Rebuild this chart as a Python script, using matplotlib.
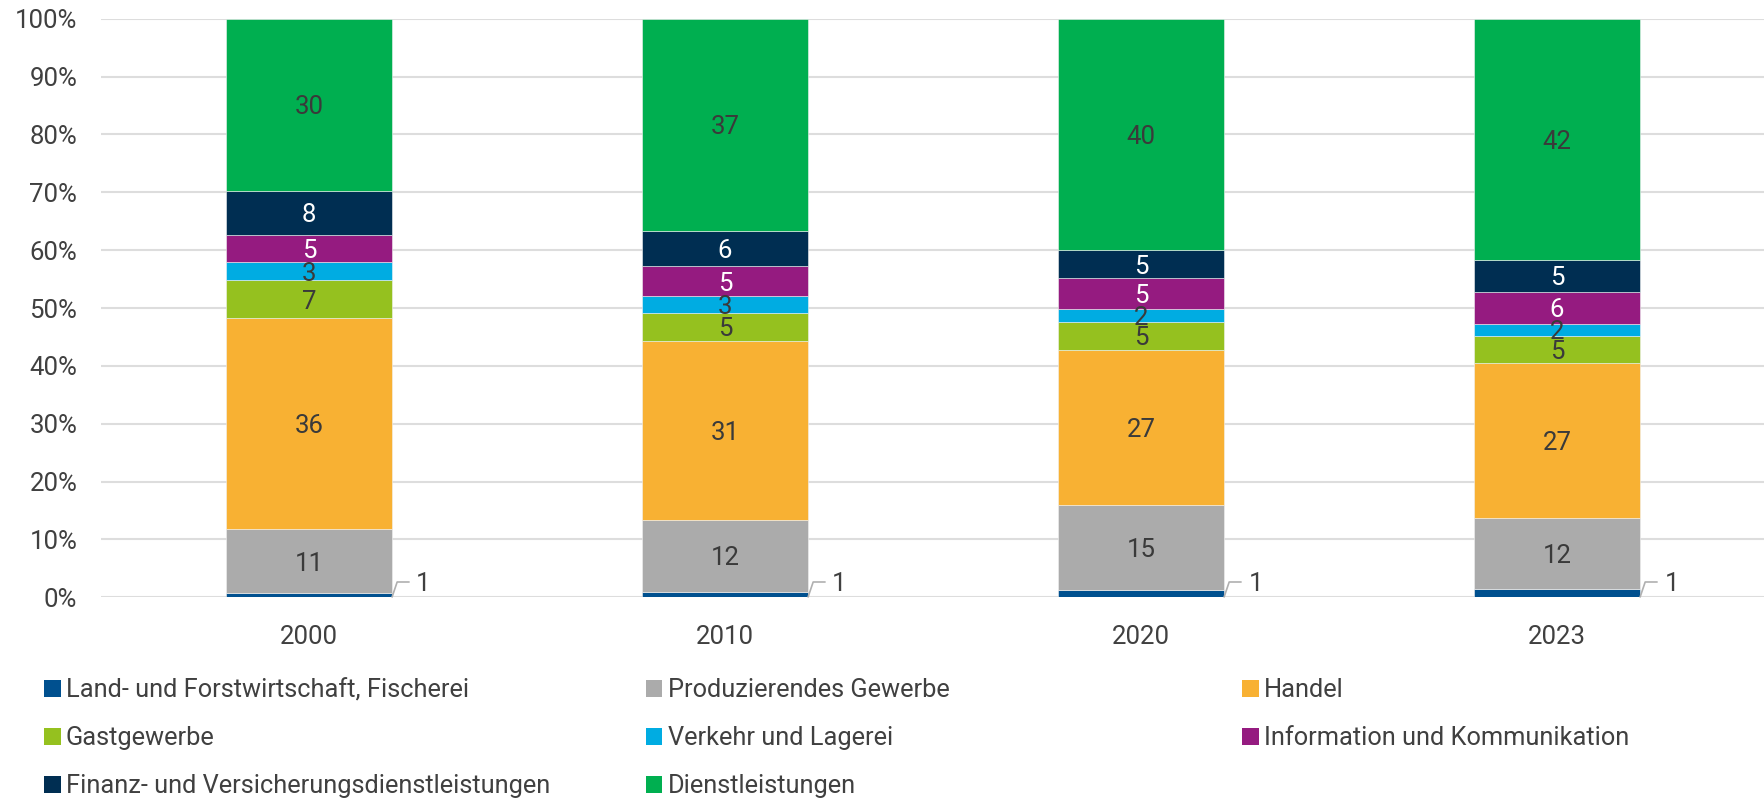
import numpy as np
import matplotlib.pyplot as plt
from matplotlib.patches import Patch

# data (shares in %)
years = ['2000', '2010', '2020', '2023']
sectors = ['Land- und Forstwirtschaft, Fischerei', 'Produzierendes Gewerbe', 'Handel',
           'Gastgewerbe', 'Verkehr und Lagerei', 'Information und Kommunikation',
           'Finanz- und Versicherungsdienstleistungen', 'Dienstleistungen']
land = [0.7, 0.9, 1.3, 1.4]
prod = [11.05, 12.5, 14.6, 12.3]
handel = [36.45, 30.9, 26.9, 26.8]
gast = [6.6, 4.9, 4.8, 4.65]
verkehr = [3.15, 2.8, 2.3, 2.1]
info = [4.75, 5.2, 5.2, 5.6]
finanz = [7.6, 6.1, 4.9, 5.4]
dienst = [29.7, 36.7, 40.0, 41.75]

colors = ['#00508F', '#ABABAB', '#F8B133', '#95C11F', '#00ACE2', '#951B80', '#002E52', '#00AF50']
label_colors = ['#404040', '#3A3A3A', '#3A3A3A', '#3A3A3A', '#3A3A3A', 'white', 'white', '#3A3A3A']

series = np.array([land, prod, handel, gast, verkehr, info, finanz, dienst])
series = series / series.sum(axis=0) * 100

plt.rcParams['font.family'] = ['Roboto', 'DejaVu Sans']

fig = plt.figure(figsize=(17.65, 8.02), dpi=100)
ax = fig.add_axes([0.0572, 0.2552, 0.9428, 0.7215])

x = np.arange(len(years))
width = 0.4
bottom = np.zeros(len(years))
for k in range(len(sectors)):
    ax.bar(x, series[k], width, bottom=bottom, color=colors[k], edgecolor='#f2f2f2',
           linewidth=0.4, zorder=3)
    for i in range(len(years)):
        v = series[k][i]
        if k == 0:
            # small first segment: label outside with leader line
            x0 = x[i] + width / 2
            ax.plot([x0, x0 + 0.012, x0 + 0.04], [bottom[i] + 0.1, 2.65, 2.65],
                    color='#B0B0B0', lw=1.2, zorder=4, clip_on=False)
            ax.text(x0 + 0.058, 2.65, '%.0f' % v, ha='left', va='center_baseline',
                    fontsize=18.5, color=label_colors[k])
        else:
            ax.text(x[i], bottom[i] + v / 2, '%.0f' % v, ha='center', va='center_baseline',
                    fontsize=18.5, color=label_colors[k], zorder=5)
    bottom += series[k]

ax.set_xlim(-0.5, len(years) - 0.5)
ax.set_ylim(0, 100)
ax.set_xticks(x)
ax.set_xticklabels(years)
ax.set_yticks(np.arange(0, 101, 10))
ax.set_yticklabels(['%d%%' % t for t in range(0, 101, 10)])
ax.tick_params(axis='both', length=0, labelsize=18.5, labelcolor='#404040')
ax.tick_params(axis='y', pad=17)
ax.tick_params(axis='x', pad=20)
ax.grid(axis='y', color='#DDDDDD', linewidth=1.5, zorder=0)
ax.set_axisbelow(True)
for s in ax.spines.values():
    s.set_visible(False)

# legend: three columns, filled row by row
handles = [Patch(facecolor=c, edgecolor='none') for c in colors]
cols = [[0, 3, 6], [1, 4, 7], [2, 5]]
col_x = [0.012, 0.353, 0.691]
for ci, idx in enumerate(cols):
    leg = fig.legend([handles[j] for j in idx], [sectors[j] for j in idx],
                     loc='upper left', bbox_to_anchor=(col_x[ci], 0.183),
                     frameon=False, handlelength=0.65, handleheight=0.65,
                     handletextpad=0.2, labelspacing=0.95,
                     prop={'family': ['Roboto'], 'size': 18.3})
    for t in leg.get_texts():
        t.set_color('#404040')

fig.savefig('out.png', dpi=100)
